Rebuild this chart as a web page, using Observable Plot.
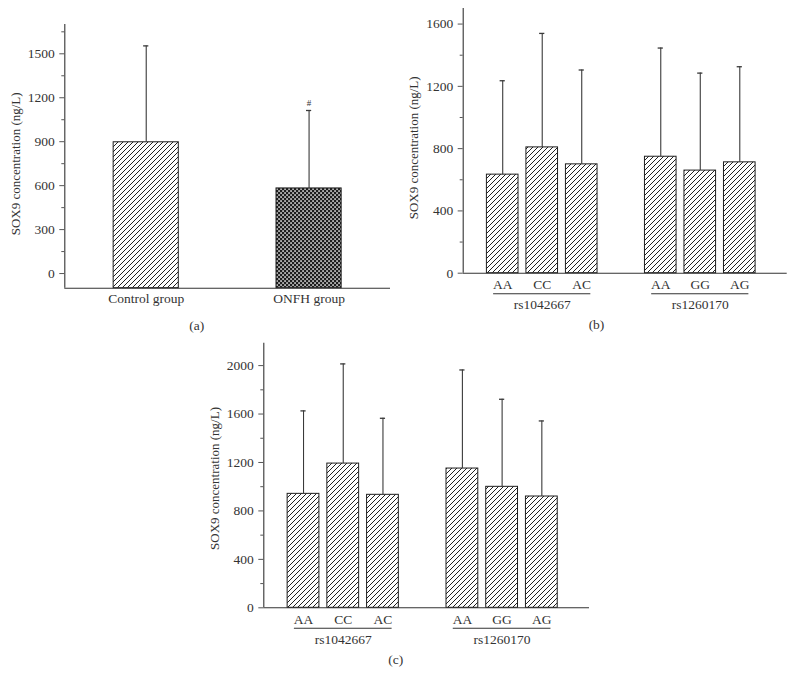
<!DOCTYPE html>
<html><head><meta charset="utf-8">
<script src="https://cdn.jsdelivr.net/npm/d3@7"></script>
<script src="https://cdn.jsdelivr.net/npm/@observablehq/plot@0.6"></script>
<style>
body{margin:0;background:#fff;}
#wrap{position:relative;width:796px;height:685px;overflow:hidden;background:#fff;}
#wrap > div{position:absolute;}
</style></head><body>
<div id="wrap">
  <div id="pa" style="left:0px;top:0px"></div>
  <div id="pb" style="left:400px;top:0px"></div>
  <div id="pc" style="left:190px;top:330px"></div>
</div>
<script>
// ---- data ----
const groupsA = ["Control group", "ONFH group"];
const meansA = [896, 581];
const upperA = [1554, 1113];           // mean + SD
const noteA = ["", "#"];

const genotypes = ["AA", "CC", "AC", "AA", "GG", "AG"];
const snpOf = ["rs1042667", "rs1042667", "rs1042667", "rs1260170", "rs1260170", "rs1260170"];
const snps = ["rs1042667", "rs1260170"];
const meansB = [633, 808, 699, 748, 659, 712];
const upperB = [1236, 1540, 1305, 1446, 1285, 1326];
const meansC = [941, 1191, 933, 1150, 999, 919];
const upperC = [1626, 2014, 1565, 1964, 1722, 1543];

const ticksA = [0, 300, 600, 900, 1200, 1500];
const ticksB = [0, 400, 800, 1200, 1600];
const ticksC = [0, 400, 800, 1200, 1600, 2000];
const yTitle = "SOX9 concentration (ng/L)";

// ---- styling ----
const FONT = "'Liberation Serif','DejaVu Serif',serif";
const INK = "#333";
const FS = 13.5;

function addDefs(svg, prefix) {
  const defs = d3.select(svg).insert("defs", ":first-child");
  const h = defs.append("pattern").attr("id", prefix + "hatch")
    .attr("patternUnits", "userSpaceOnUse").attr("width", 5).attr("height", 5);
  h.append("rect").attr("width", 5).attr("height", 5).attr("fill", "#fff");
  h.append("path").attr("d", "M-1,1 L1,-1 M0,5 L5,0 M4,6 L6,4")
    .attr("stroke", "#222").attr("stroke-width", 1);
  const c = defs.append("pattern").attr("id", prefix + "check")
    .attr("patternUnits", "userSpaceOnUse").attr("width", 4).attr("height", 4);
  c.append("rect").attr("width", 4).attr("height", 4).attr("fill", "#1e1e1e");
  c.append("rect").attr("x", 0.3).attr("y", 0.3).attr("width", 1.5).attr("height", 1.5).attr("fill", "#fff");
  c.append("rect").attr("x", 2.3).attr("y", 2.3).attr("width", 1.5).attr("height", 1.5).attr("fill", "#fff");
}

function minorTicks(major, domain) {
  const step = major[1] - major[0];
  const out = [];
  for (let t = major[0] - step / 2; t <= domain[1]; t += step) if (t >= domain[0]) out.push(t);
  return out;
}

function panel(o) {
  const ymin = o.ydomain[0];
  const frameW = o.width - o.ml - o.mr;
  const capHalf = 2.6 * (o.xdomain[1] - o.xdomain[0]) / frameW;
  const labelOf = new Map(o.rows.map(d => [d.pos, d.label]));
  const marks = [];
  o.fills.forEach(f => {
    marks.push(Plot.rectY(o.rows.filter(d => d.fillKind === f), {
      x1: d => d.pos - o.half, x2: d => d.pos + o.half,
      y1: () => ymin, y2: "mean",
      fill: `url(#${o.id}${f})`, stroke: "#1e1e1e", strokeWidth: 1
    }));
  });
  marks.push(
    Plot.ruleX(o.rows, {x: "pos", y1: "mean", y2: "upper", stroke: "#3a3a3a", strokeWidth: 1.1}),
    Plot.ruleY(o.rows, {y: "upper", x1: d => d.pos - capHalf, x2: d => d.pos + capHalf, stroke: "#3a3a3a", strokeWidth: 1.3}),
    Plot.text(o.rows.filter(d => d.note), {x: "pos", y: "upper", text: "note", dy: -7, fontSize: 9, fill: INK}),
    Plot.ruleX([o.xdomain[0]], {stroke: INK, strokeWidth: 1.1}),
    Plot.ruleY([ymin], {stroke: INK, strokeWidth: 1.1}),
    Plot.axisY({ticks: o.major, tickFormat: d3.format("d"), tickSize: 5, tickPadding: 5, label: null, stroke: "#555", fill: INK, fontSize: FS}),
    Plot.axisY({ticks: minorTicks(o.major, o.ydomain), tickSize: 3, tickFormat: () => "", label: null, stroke: "#555"}),
    Plot.axisX({ticks: o.rows.map(d => d.pos), tickFormat: p => labelOf.get(p), tickSize: 0, tickPadding: o.xpad, label: null, fill: INK, fontSize: FS}),
    Plot.text([yTitle], {text: d => d, frameAnchor: "left", textAnchor: "middle", lineAnchor: "middle", rotate: -90, dx: -49.3, dy: o.titleDy, fill: INK, fontSize: 13}),
    Plot.text([o.caption], {text: d => d, frameAnchor: "bottom", textAnchor: "middle", lineAnchor: "middle", dx: o.capDx, dy: o.capDy, fill: INK, fontSize: FS})
  );
  if (o.groups) {
    marks.push(
      Plot.ruleY(o.groups, {y: () => ymin, x1: "start", x2: "end", dy: 20.5, stroke: INK, strokeWidth: 1.1}),
      Plot.text(o.groups, {x: "center", text: "name", frameAnchor: "bottom", textAnchor: "middle", lineAnchor: "middle", dy: 31.6, fill: INK, fontSize: FS})
    );
  }
  const svg = Plot.plot({
    width: o.width, height: o.height,
    marginLeft: o.ml, marginRight: o.mr, marginTop: o.mt, marginBottom: o.mb,
    x: {type: "linear", domain: o.xdomain},
    y: {type: "linear", domain: o.ydomain},
    style: {fontFamily: FONT, fontSize: FS + "px", color: INK, background: "transparent", overflow: "visible"},
    marks
  });
  addDefs(svg, o.id);
  document.getElementById(o.target).appendChild(svg);
}

// panel (a)
const rowsA = groupsA.map((g, i) => ({pos: i, label: g, mean: meansA[i], upper: upperA[i], note: noteA[i], fillKind: i === 0 ? "hatch" : "check"}));
panel({
  target: "pa", id: "a", rows: rowsA, fills: ["hatch", "check"],
  width: 400, height: 340, ml: 64.3, mr: 10, mt: 24, mb: 52.3,
  xdomain: [-0.5, 1.5], ydomain: [-100, 1700], half: 0.2, major: ticksA, xpad: 5,
  titleDy: 7.5, caption: "(a)", capDx: -31, capDy: 37
});

function genoRows(means, upper) {
  return genotypes.map((g, i) => {
    const gi = snps.indexOf(snpOf[i]);
    return {pos: i + gi + 1, label: g, snp: snpOf[i], mean: means[i], upper: upper[i], note: "", fillKind: "hatch"};
  });
}
function genoGroups(rows) {
  return snps.map(s => {
    const ps = rows.filter(d => d.snp === s).map(d => d.pos);
    const lo = d3.min(ps), hi = d3.max(ps);
    return {name: s, start: lo - 0.23, end: hi + 0.23, center: (lo + hi) / 2};
  });
}

const rowsB = genoRows(meansB, upperB);
panel({
  target: "pb", id: "b", rows: rowsB, groups: genoGroups(rowsB), fills: ["hatch"],
  width: 396, height: 340, ml: 62.7, mr: 9.3, mt: 8, mb: 67.3,
  xdomain: [0, 8.2], ydomain: [0, 1700], half: 0.4, major: ticksB, xpad: 6.7,
  titleDy: 7, caption: "(b)", capDx: -28.7, capDy: 51.3
});

const rowsC = genoRows(meansC, upperC);
panel({
  target: "pc", id: "c", rows: rowsC, groups: genoGroups(rowsC), fills: ["hatch"],
  width: 420, height: 355, ml: 73.3, mr: 21, mt: 12.7, mb: 77.7,
  xdomain: [0, 8.2], ydomain: [0, 2185], half: 0.4, major: ticksC, xpad: 6.7,
  titleDy: 3, caption: "(c)", capDx: -31, capDy: 52
});
</script>
</body></html>
